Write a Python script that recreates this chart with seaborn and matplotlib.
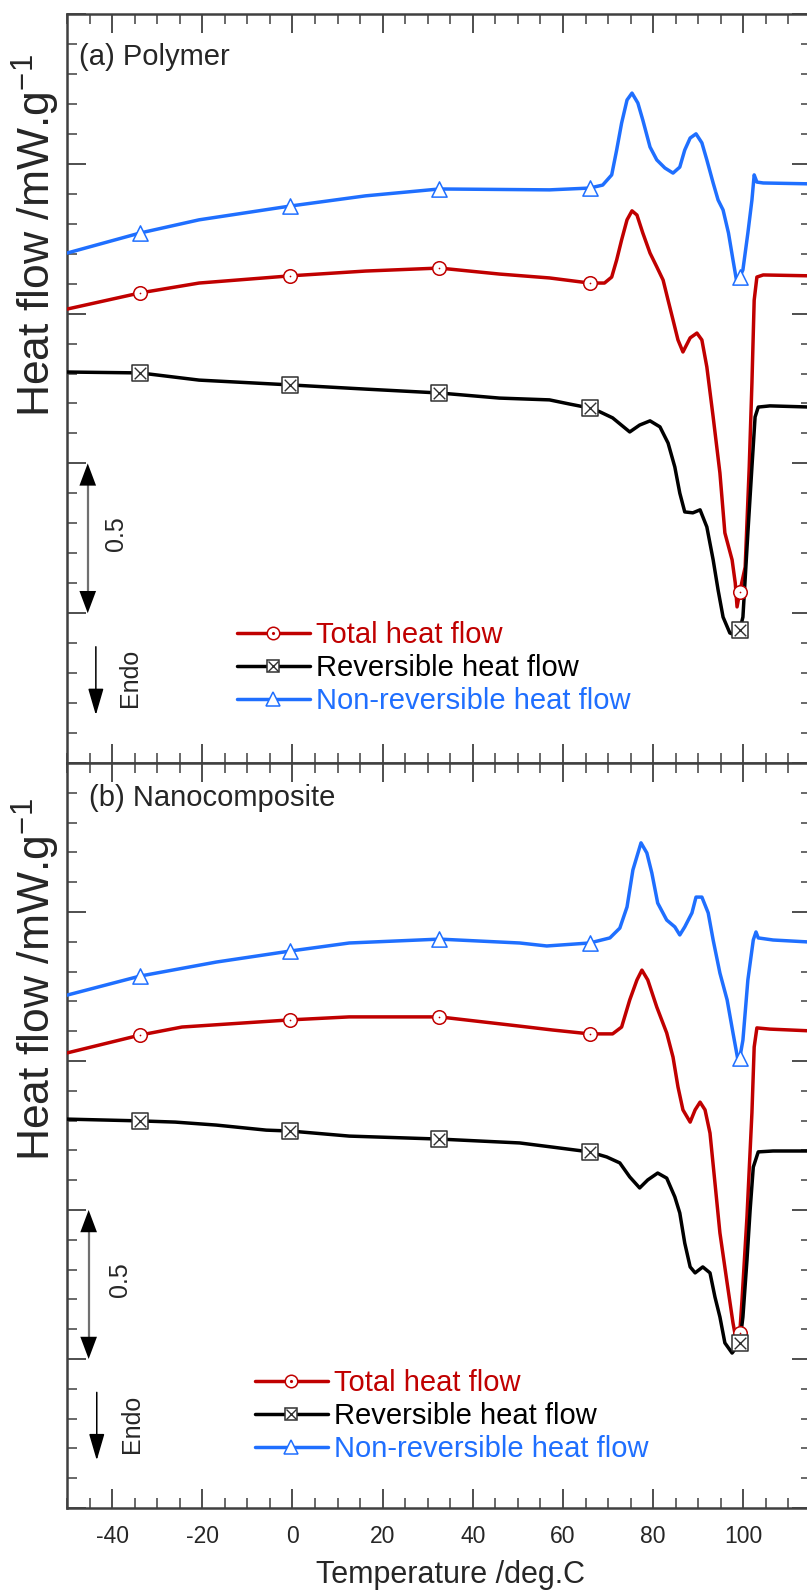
import numpy as np
import matplotlib
matplotlib.use("Agg")
import matplotlib.pyplot as plt
import seaborn as sns
from matplotlib.lines import Line2D
from matplotlib.legend_handler import HandlerTuple
from matplotlib.patches import FancyArrowPatch
from matplotlib.ticker import MultipleLocator

# ---------------- data (temperature in deg.C, heat flow in mW/g, offset traces) ----------------
MARK_T = [-33.8, -0.5, 32.6, 65.9, 99.2]

# (a) Polymer
a_blue_T = [-50, -33.8, -20.7, -0.5, 16.2, 32.6, 57.0, 65.9, 68.8, 70.8, 71.9, 73.0, 74.2, 75.3,
            76.6, 77.7, 79.3, 80.8, 82.6, 84.4, 85.9, 87.0, 88.2, 89.5, 90.8, 91.9, 93.3, 94.4,
            95.5, 96.7, 97.7, 98.6, 99.2, 99.9, 101.0, 101.9, 102.4, 103.0, 104.4, 115]
a_blue = [1.702, 1.769, 1.813, 1.859, 1.893, 1.916, 1.913, 1.919, 1.929, 1.963, 2.046, 2.136,
          2.213, 2.236, 2.203, 2.146, 2.056, 2.013, 1.986, 1.969, 1.989, 2.046, 2.086, 2.100,
          2.070, 2.013, 1.936, 1.879, 1.846, 1.769, 1.679, 1.600, 1.622, 1.646, 1.769, 1.879,
          1.963, 1.939, 1.936, 1.933]

a_red_T = [-50, -33.8, -20.7, -0.5, 16.2, 32.6, 45.9, 57.0, 65.9, 69.2, 70.8, 71.9, 73.0, 74.2,
           75.3, 76.4, 77.7, 79.3, 80.8, 82.2, 83.3, 84.4, 85.5, 86.6, 88.2, 89.7, 90.8, 91.9,
           93.3, 94.8, 95.9, 97.5, 98.2, 98.6, 99.2, 100.4, 101.3, 101.9, 102.4, 103.0, 104.4, 115]
a_red = [1.515, 1.569, 1.602, 1.626, 1.642, 1.652, 1.632, 1.619, 1.602, 1.602, 1.622, 1.679,
         1.746, 1.813, 1.843, 1.829, 1.769, 1.702, 1.656, 1.612, 1.545, 1.479, 1.412, 1.372,
         1.419, 1.435, 1.412, 1.322, 1.155, 0.968, 0.768, 0.678, 0.601, 0.521, 0.571, 0.654,
         0.988, 1.268, 1.545, 1.622, 1.629, 1.626]

a_blk_T = [-50, -33.8, -20.7, -0.5, 16.2, 32.6, 45.9, 57.0, 61.5, 65.9, 68.2, 71.0, 74.8, 77.0,
           79.3, 81.5, 83.3, 84.8, 85.9, 87.0, 88.8, 90.4, 91.9, 93.3, 94.4, 95.5, 97.0, 98.2,
           99.2, 99.9, 101.0, 101.9, 102.6, 103.3, 105.9, 115]
a_blk = [1.305, 1.302, 1.278, 1.262, 1.248, 1.235, 1.218, 1.212, 1.198, 1.185, 1.172, 1.152,
         1.105, 1.128, 1.142, 1.122, 1.068, 0.988, 0.901, 0.838, 0.835, 0.845, 0.788, 0.678,
         0.577, 0.487, 0.434, 0.427, 0.444, 0.487, 0.768, 0.988, 1.155, 1.188, 1.192, 1.188]

# (b) Nanocomposite
b_blue_T = [-50, -33.8, -16.9, -0.5, 12.6, 32.6, 50.4, 56.4, 65.9, 70.4, 72.6, 74.2, 75.5, 77.3,
            78.6, 79.7, 81.0, 83.0, 84.8, 85.9, 87.0, 88.6, 89.5, 90.8, 92.2, 93.3, 94.8, 96.4,
            97.7, 98.8, 99.2, 99.9, 101.0, 102.2, 102.8, 103.3, 106.6, 115]
b_blue = [1.721, 1.785, 1.832, 1.869, 1.896, 1.909, 1.896, 1.886, 1.896, 1.913, 1.946, 2.017,
          2.141, 2.232, 2.198, 2.131, 2.030, 1.973, 1.950, 1.923, 1.950, 1.997, 2.050, 2.050,
          1.997, 1.906, 1.795, 1.705, 1.594, 1.503, 1.510, 1.570, 1.772, 1.906, 1.933, 1.913,
          1.906, 1.899]

b_red_T = [-50, -33.8, -24.5, -0.5, 12.6, 32.6, 50.4, 57.7, 65.9, 71.0, 73.0, 74.8, 76.4, 77.5,
           78.8, 80.8, 83.0, 84.4, 85.5, 86.6, 88.2, 89.3, 90.4, 91.5, 92.6, 93.7, 94.8, 96.4,
           97.7, 98.4, 99.2, 99.7, 100.8, 101.9, 102.4, 103.0, 105.9, 115]
b_red = [1.527, 1.587, 1.614, 1.638, 1.648, 1.648, 1.617, 1.604, 1.591, 1.591, 1.614, 1.705,
         1.772, 1.805, 1.772, 1.681, 1.594, 1.513, 1.413, 1.336, 1.295, 1.336, 1.362, 1.336,
         1.258, 1.091, 0.923, 0.755, 0.621, 0.564, 0.587, 0.698, 0.977, 1.326, 1.547, 1.611,
         1.607, 1.601]

b_blk_T = [-50, -33.8, -26.0, -16.9, -5.8, -0.5, 12.6, 32.6, 50.4, 57.7, 65.9, 69.7, 72.6, 74.8,
           77.0, 78.8, 81.0, 83.0, 84.8, 85.9, 87.0, 88.2, 89.3, 91.0, 92.6, 93.7, 94.8, 95.9,
           97.5, 99.2, 99.9, 100.8, 101.5, 102.2, 103.3, 106.6, 115]
b_blk = [1.305, 1.299, 1.295, 1.285, 1.268, 1.265, 1.248, 1.238, 1.225, 1.211, 1.195, 1.178,
         1.158, 1.111, 1.074, 1.101, 1.124, 1.107, 1.044, 0.990, 0.889, 0.809, 0.789, 0.809,
         0.789, 0.708, 0.641, 0.554, 0.520, 0.554, 0.641, 0.832, 1.000, 1.144, 1.195, 1.198,
         1.198]

LABELS = ["Total heat flow", "Reversible heat flow", "Non-reversible heat flow"]
PANEL_TITLES = ["(a) Polymer", "(b) Nanocomposite"]
X_TICKS = [-40, -20, 0, 20, 40, 60, 80, 100]

RED, BLK, BLUE = "#C00000", "#000000", "#1F6FFF"
FONT = "Liberation Sans"

# ---------------- style ----------------
sns.set_style("ticks")
plt.rcParams["font.family"] = [FONT, "DejaVu Sans"]
plt.rcParams["mathtext.fontset"] = "custom"
plt.rcParams["mathtext.rm"] = FONT
plt.rcParams["mathtext.default"] = "regular"

W, H = 807, 1591
fig = plt.figure(figsize=(W / 100, H / 100), dpi=100)

def fig_rect(x0, y_top, x1, y_bot):
    return [x0 / W, 1 - y_bot / H, (x1 - x0) / W, (y_bot - y_top) / H]

ax_a = fig.add_axes(fig_rect(67, 14, 811, 763))
ax_b = fig.add_axes(fig_rect(67, 763, 811, 1508))

SPINE = "#404040"


def trace(ax, T, v, color, kind):
    T = np.asarray(T, dtype=float)
    v = np.asarray(v, dtype=float)
    sns.lineplot(x=T, y=v, ax=ax, color=color, lw=2.5, sort=False, estimator=None,
                 zorder=3, solid_joinstyle="round")
    m = np.isin(T, MARK_T)
    if kind == "o":
        sns.scatterplot(x=T[m], y=v[m], ax=ax, marker="o", s=95, facecolor="white",
                        edgecolor=color, linewidth=1.1, zorder=4)
        sns.scatterplot(x=T[m], y=v[m], ax=ax, marker=".", s=6, color=color,
                        edgecolor=color, linewidth=0, zorder=5)
    elif kind == "s":
        sns.scatterplot(x=T[m], y=v[m], ax=ax, marker="s", s=120, facecolor="white",
                        edgecolor="#303030", linewidth=1.1, zorder=4)
        sns.scatterplot(x=T[m], y=v[m], ax=ax, marker="x", s=70, color="#303030",
                        linewidth=1.0, zorder=5)
    else:
        sns.scatterplot(x=T[m], y=v[m], ax=ax, marker="^", s=120, facecolor="white",
                        edgecolor=color, linewidth=1.1, zorder=4)


def legend_handles():
    hr = (Line2D([], [], color=RED, lw=2.5, marker="o", ms=9, mfc="white", mec=RED, mew=1.1),
          Line2D([], [], ls="none", marker=".", ms=2.5, color=RED))
    hk = (Line2D([], [], color=BLK, lw=2.5, marker="s", ms=9, mfc="white", mec="#303030", mew=1.1),
          Line2D([], [], ls="none", marker="x", ms=7.5, color="#303030", mew=1.0))
    hb = (Line2D([], [], color=BLUE, lw=2.5, marker="^", ms=10, mfc="white", mec=BLUE, mew=1.1),)
    return [hr, hk, hb]


def decorate(ax, title, title_xy, leg_anchor, arrow_x, endo_x, text05_x, endo_tx):
    ax.set_xlim(-50, 115)
    ax.set_ylim(0, 2.5)
    ax.xaxis.set_major_locator(MultipleLocator(20))
    ax.xaxis.set_minor_locator(MultipleLocator(5))
    ax.yaxis.set_major_locator(MultipleLocator(0.5))
    ax.yaxis.set_minor_locator(MultipleLocator(0.1))
    ax.tick_params(which="both", direction="in", top=True, right=True, left=True, bottom=True,
                   color=SPINE, labelleft=False, labelsize=16.5, pad=12)
    ax.tick_params(which="major", length=14, width=1.3)
    ax.tick_params(which="minor", length=7, width=1.1)
    for s in ax.spines.values():
        s.set_color(SPINE)
        s.set_linewidth(1.8)
    ax.set_xlabel("")
    ax.set_ylabel("")

    ax.text(title_xy[0], title_xy[1], title, transform=ax.transAxes, fontsize=21,
            ha="left", va="center")

    # 0.5 mW/g scale bar: grey shaft with solid black heads
    ax.plot([arrow_x, arrow_x], [0.53, 0.97], color="#707070", lw=1.6, zorder=6)
    ax.add_patch(FancyArrowPatch((arrow_x, 0.5), (arrow_x, 1.0),
                                 arrowstyle="<|-|>,head_length=0.4,head_width=0.15",
                                 mutation_scale=40, facecolor="black", edgecolor="black",
                                 lw=0.0, shrinkA=0, shrinkB=0, zorder=7))
    ax.text(text05_x, 0.765, "0.5", rotation=90, fontsize=18, ha="center", va="center")

    # endotherm direction
    ax.add_patch(FancyArrowPatch((endo_x, 0.388), (endo_x, 0.16),
                                 arrowstyle="-|>,head_length=0.55,head_width=0.16",
                                 mutation_scale=30, color="black", lw=1.1,
                                 shrinkA=0, shrinkB=0, zorder=6))
    ax.text(endo_tx, 0.283, "Endo", rotation=90, fontsize=18, ha="center", va="center")

    leg = ax.legend(legend_handles(), LABELS, handler_map={tuple: HandlerTuple(ndivide=1, pad=0)},
                    loc="center left", bbox_to_anchor=leg_anchor, bbox_transform=fig.transFigure,
                    frameon=False, fontsize=21, handlelength=2.5, handletextpad=0.22,
                    labelspacing=0.17, borderpad=0, borderaxespad=0, numpoints=1,
                    labelcolor=[RED, BLK, BLUE])
    return leg


trace(ax_a, a_blue_T, a_blue, BLUE, "^")
trace(ax_a, a_red_T, a_red, RED, "o")
trace(ax_a, a_blk_T, a_blk, BLK, "s")
trace(ax_b, b_blue_T, b_blue, BLUE, "^")
trace(ax_b, b_red_T, b_red, RED, "o")
trace(ax_b, b_blk_T, b_blk, BLK, "s")

decorate(ax_a, PANEL_TITLES[0], (0.016, 0.943), (237 / W, 1 - 668 / H), -45.4, -43.6, -39.2, -36.0)
decorate(ax_b, PANEL_TITLES[1], (0.030, 0.953), (255 / W, 1 - 1416 / H), -45.2, -43.4, -38.2, -35.6)

ax_a.tick_params(labelbottom=False)
ax_b.set_xticks(X_TICKS)
ax_b.set_xticklabels([str(t) for t in X_TICKS])

# axis titles
fig.text(450 / W, 1 - 1583 / H, "Temperature /deg.C", fontsize=22, ha="center", va="baseline")
for yc in (236, 980):
    fig.text(36 / W, 1 - yc / H, "Heat flow /mW.g$^{-1}$", fontsize=32, rotation=90,
             ha="center", va="center")

fig.savefig("out.png", dpi=100)
